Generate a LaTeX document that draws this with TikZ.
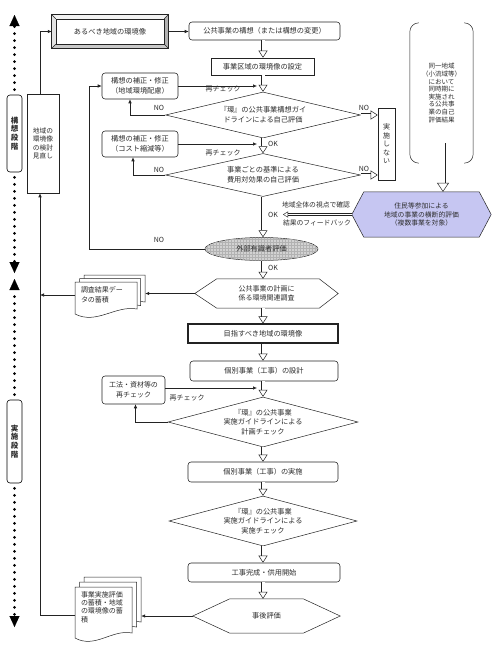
\documentclass[tikz,border=0pt]{standalone}
\usepackage{fontspec}
\newfontfamily\jp{Noto Sans CJK JP}
\usetikzlibrary{arrows.meta,shapes.geometric,patterns,backgrounds,calc}
\definecolor{lav}{RGB}{198,198,242}
\definecolor{txt}{RGB}{45,45,45}
\definecolor{ln}{RGB}{35,35,35}
\newcommand\mdpage[4]{\filldraw[fill=white,draw=ln,line width=0.5pt] (#1,#2) -- (#1+#3,#2) -- (#1+#3,#2+#4-7) .. controls (#1+0.65*#3,#2+#4-11) and (#1+0.35*#3,#2+#4+9) .. (#1,#2+#4-2) -- cycle;}
\begin{document}
\begin{tikzpicture}[x=1pt,y=-1pt,
  every node/.style={font=\jp\fontsize{7.2}{9.6}\selectfont, text=txt, inner sep=0pt, align=center},
  sbox/.style={draw=ln, line width=0.55pt, fill=white},
  rbox/.style={draw=ln, line width=0.55pt, rounded corners=3pt, fill=white},
  dia/.style={diamond, draw=ln, line width=0.5pt, fill=white},
  hollowarr/.style={draw=ln, line width=0.5pt, double=white, double distance=3pt, -{Triangle[open,width=9pt,length=7pt,line width=0.5pt]}},
  thinarr/.style={draw=ln, line width=0.6pt, -{Latex[length=4pt,width=3.5pt]}},
  lbl/.style={font=\jp\fontsize{7}{8}\selectfont},
  dotline/.style={draw=black, line width=3pt, line cap=round, dash pattern=on 0pt off 7pt, -{Triangle[width=10pt,length=11pt,line width=0.1pt]}},
  sidelab/.style={draw=black, line width=0.6pt, rounded corners=3pt, minimum width=15pt, font=\jp\bfseries\fontsize{7.5}{8.8}\selectfont},
]
\useasboundingbox (0,0) rectangle (500,665);
\begin{scope}[on background layer]
\fill[white] (0,0) rectangle (500,665);
\end{scope}

% ---------- left side ----------
\node[sidelab, minimum height=77pt] (labk) at (14.5,133.5) {構\\想\\段\\階};
\node[sidelab, minimum height=83pt] (labj) at (14.5,441.5) {実\\施\\段\\階};
\coordinate (dtop) at (14.5,15);
\coordinate (dm1) at (14.5,273);
\coordinate (dm2) at (14.5,279);
\coordinate (dbot) at (14.5,627);
\draw[dotline] ([yshift=5pt]labk.north) -- (dtop);
\draw[dotline] ([yshift=-5pt]labk.south) -- (dm1);
\draw[dotline] ([yshift=5pt]labj.north) -- (dm2);
\draw[dotline] ([yshift=-5pt]labj.south) -- (dbot);

\node[sbox, minimum width=32pt, minimum height=99pt, font=\jp\fontsize{6.7}{8.3}\selectfont] (minaoshi) at (43,143.5) {地域の\\環境像\\の検討\\見直し};

% ---------- bevel box ----------
\node[minimum width=116pt, minimum height=33pt] (bev) at (110,31.5) {あるべき地域の環境像};
\fill[gray!10] (bev.north west) -- (bev.north east) -- ([shift={(-4pt,-4pt)}]bev.north east) -- ([shift={(4pt,-4pt)}]bev.north west) -- cycle;
\fill[gray!22] (bev.north west) -- ([shift={(4pt,-4pt)}]bev.north west) -- ([shift={(4pt,4pt)}]bev.south west) -- (bev.south west) -- cycle;
\fill[gray!60] (bev.north east) -- (bev.south east) -- ([shift={(-4pt,4pt)}]bev.south east) -- ([shift={(-4pt,-4pt)}]bev.north east) -- cycle;
\fill[gray!42] (bev.south west) -- (bev.south east) -- ([shift={(-4pt,4pt)}]bev.south east) -- ([shift={(4pt,4pt)}]bev.south west) -- cycle;
\draw[ln, line width=0.8pt] (bev.north west) rectangle (bev.south east);
\draw[ln, line width=0.4pt] ([shift={(4pt,-4pt)}]bev.north west) rectangle ([shift={(-4pt,4pt)}]bev.south east);
\draw[ln, line width=0.4pt] (bev.north west) -- ([shift={(4pt,-4pt)}]bev.north west)
  (bev.north east) -- ([shift={(-4pt,-4pt)}]bev.north east)
  (bev.south west) -- ([shift={(4pt,4pt)}]bev.south west)
  (bev.south east) -- ([shift={(-4pt,4pt)}]bev.south east);

% ---------- main column ----------
\coordinate (cx) at (263,0);
\node[rbox, minimum width=151pt, minimum height=18pt] (kousou) at (264.5,31) {公共事業の構想（または構想の変更）};
\node[sbox, minimum width=103pt, minimum height=17pt] (settei) at (262.5,66.5) {事業区域の環境像の設定};
\node[dia, aspect=4.2, minimum width=195pt, minimum height=46pt] (d1) at (263,115) {『環』の公共事業構想ガイ\\ドラインによる自己評価};
\node[dia, aspect=4.5, minimum width=195pt, minimum height=43pt] (d2) at (263,175) {事業ごとの基準による\\費用対効果の自己評価};
\node[ellipse, draw=ln, line width=0.5pt, fill=gray!35, postaction={pattern=grid, pattern color=gray!60}, minimum width=113pt, minimum height=23pt] (gaibu) at (261.5,249) {外部有識者評価};
\node[minimum width=143pt, minimum height=29pt, font=\jp\fontsize{7}{9.6}\selectfont] (hex2) at (266.5,293.5) {公共事業の計画に\\係る環境関連調査};
\node[sbox, line width=1.1pt, minimum width=150pt, minimum height=19pt] (mezasu) at (263,333.5) {目指すべき地域の環境像};
\node[rbox, minimum width=148pt, minimum height=20pt] (sekkei) at (264,371) {個別事業（工事）の設計};
\node[dia, aspect=3.8, minimum width=190pt, minimum height=50pt] (d3) at (263,422) {『環』の公共事業\\実施ガイドラインによる\\計画チェック};
\node[rbox, minimum width=150pt, minimum height=20pt] (jisshi) at (263,472) {個別事業（工事）の実施};
\node[dia, aspect=3.8, minimum width=188pt, minimum height=50pt] (d4) at (263,521) {『環』の公共事業\\実施ガイドラインによる\\実施チェック};
\node[rbox, minimum width=152pt, minimum height=19pt] (kansei) at (264,572.5) {工事完成・供用開始};
\node[minimum width=147pt, minimum height=34pt] (hex3) at (266.5,616) {事後評価};

% ---------- side boxes ----------
\node[rbox, minimum width=76pt, minimum height=26pt] (hosei1) at (140,86) {構想の補正・修正\\（地域環境配慮）};
\node[rbox, minimum width=76pt, minimum height=26pt] (hosei2) at (140,144) {構想の補正・修正\\（コスト縮減等）};
\node[rbox, minimum width=63pt, minimum height=28pt, font=\jp\fontsize{7}{9.6}\selectfont] (kouhou) at (133.5,390) {工法・資材等の\\再チェック};
\node[sbox, minimum width=17pt, minimum height=72pt, font=\jp\fontsize{7}{8.5}\selectfont] (jisshinai) at (386.5,144) {実\\施\\し\\な\\い};

% ---------- right side ----------
\node[minimum width=63pt, minimum height=140pt, font=\jp\fontsize{6.5}{7.6}\selectfont] (br) at (441.5,93) {同一地域\\（小流域等）\\において\\同時期に\\実施され\\る公共事\\業の自己\\評価結果};
\draw[ln, line width=0.5pt, rounded corners=9pt] ([xshift=9pt]br.north west) -- (br.north west) -- (br.south west) -- ([xshift=9pt]br.south west);
\draw[ln, line width=0.5pt, rounded corners=9pt] ([xshift=-9pt]br.north east) -- (br.north east) -- (br.south east) -- ([xshift=-9pt]br.south east);
\node[minimum width=139pt, minimum height=45pt, font=\jp\fontsize{6.8}{8.8}\selectfont] (hex1) at (421.5,214.5) {住民等参加による\\地域の事業の横断的評価\\（複数事業を対象）};
\coordinate (bra) at (443,143);

% ---------- documents ----------
\mdpage{84}{275}{61}{34}
\mdpage{79.5}{278.5}{61}{34}
\mdpage{75}{282}{62}{34}
\node[minimum width=70pt, minimum height=40pt, text width=58pt, align=left, font=\jp\fontsize{7}{9.5}\selectfont] (doc1) at (110,295) {調査結果デー\\タの蓄積};
\mdpage{84}{577}{57}{52}
\mdpage{79.5}{582}{57}{52}
\mdpage{75}{587}{57}{53}
\node[minimum width=66pt, minimum height=40pt, text width=54pt, align=left, font=\jp\fontsize{7}{8.4}\selectfont] (doc2) at (108,607) {事業実施評価\\の蓄積・地域\\の環境像の蓄\\積};

% ---------- hexagon outlines (background) ----------
\begin{scope}[on background layer]
\filldraw[fill=lav, draw=ln, line width=0.5pt] (hex1.west) -- ([xshift=12pt]hex1.north west) -- ([xshift=-12pt]hex1.north east) -- (hex1.east) -- ([xshift=-12pt]hex1.south east) -- ([xshift=12pt]hex1.south west) -- cycle;
\filldraw[fill=white, draw=ln, line width=0.5pt] (hex2.west) -- ([xshift=22pt]hex2.north west) -- ([xshift=-19pt]hex2.north east) -- (hex2.east) -- ([xshift=-19pt]hex2.south east) -- ([xshift=22pt]hex2.south west) -- cycle;
\filldraw[fill=white, draw=ln, line width=0.5pt] (hex3.west) -- ([xshift=37pt]hex3.north west) -- ([xshift=-37pt]hex3.north east) -- (hex3.east) -- ([xshift=-37pt]hex3.south east) -- ([xshift=37pt]hex3.south west) -- cycle;
\end{scope}

% ---------- connectors: main column ----------
\draw[thinarr] (bev.east) -- (bev.east -| kousou.west);
\draw[hollowarr] (kousou.south -| cx) -- (settei.north -| cx);
\draw[hollowarr] (settei.south -| cx) -- (d1.north);
\draw[hollowarr] (d1.south) -- (d2.north);
\draw[hollowarr] (d2.south) -- (gaibu.north -| cx);
\draw[hollowarr] (gaibu.south -| cx) -- (hex2.north -| cx);
\draw[hollowarr] (hex2.south -| cx) -- (mezasu.north -| cx);
\draw[hollowarr] (mezasu.south -| cx) -- (sekkei.north -| cx);
\draw[hollowarr] (sekkei.south -| cx) -- (d3.north);
\draw[hollowarr] (d3.south) -- (jisshi.north -| cx);
\draw[hollowarr] (jisshi.south -| cx) -- (d4.north);
\draw[hollowarr] (d4.south) -- (kansei.north -| cx);
\draw[hollowarr] (kansei.south -| cx) -- (hex3.north -| cx);
\draw[hollowarr] (d1.east) -- (d1.east -| jisshinai.west);
\draw[hollowarr] (d2.east) -- (d2.east -| jisshinai.west);
\draw[hollowarr, double distance=4pt, -{Triangle[open,width=12pt,length=9pt,line width=0.5pt]}] (bra) -- (bra |- hex1.north);
\coordinate (fbend) at (283,214.5);
\draw[hollowarr, double distance=1.6pt, -{Triangle[open,width=6pt,length=5pt,line width=0.4pt]}] (hex1.west) -- (fbend);

% ---------- connectors: side ----------
\coordinate (colx) at (257,0);
\draw[thinarr] (hosei1.east) -- (hosei1.east -| colx);
\draw[thinarr] (hosei2.east) -- (hosei2.east -| colx);
\draw[thinarr] ([yshift=2pt]kouhou.east) -- ([yshift=2pt]kouhou.east -| colx);
\draw[thinarr] (d1.west) -| ([xshift=-10pt]hosei1.south);
\draw[thinarr] (d2.west) -| ([xshift=-7pt]hosei2.south);
\draw[thinarr] (d3.west) -| ([xshift=2pt]kouhou.south);
\coordinate (loopx) at (89,0);
\draw[thinarr] (gaibu.west) -- (gaibu.west -| loopx) |- (hosei1.west);
\draw[thinarr] (hex2.west) -- (hex2.west -| doc1.east);
\draw[thinarr] (hex3.west) -- (hex3.west -| doc2.east);
\coordinate (lx) at (40,0);
\draw[thinarr] (doc1.west) -- (doc1.west -| lx);
\draw[thinarr] ([yshift=-8pt]doc2.west) -| ([xshift=-3pt]minaoshi.south);
\draw[thinarr] ([xshift=-3pt]minaoshi.north) |- (bev.west);

% ---------- labels ----------
\node[lbl] (rc1) at (223,89) {再チェック};
\node[lbl] (rc2) at (223,153) {再チェック};
\node[lbl] (rc3) at (187,398) {再チェック};
\node[lbl] (no1) at (159,108) {NO};
\node[lbl] (no2) at (159,170) {NO};
\node[lbl] (no3) at (159,240) {NO};
\node[lbl] (no4) at (364,108) {NO};
\node[lbl] (no5) at (364,169) {NO};
\node[lbl, anchor=west] (ok1) at (268,144) {OK};
\node[lbl, anchor=west] (ok2) at (268,214.5) {OK};
\node[lbl, anchor=west] (ok3) at (268,268) {OK};
\node[font=\jp\fontsize{6.8}{8}\selectfont] (fb1) at (316,205) {地域全体の視点で確認};
\node[font=\jp\fontsize{6.8}{8}\selectfont] (fb2) at (317,223) {結果のフィードバック};
\end{tikzpicture}
\end{document}
